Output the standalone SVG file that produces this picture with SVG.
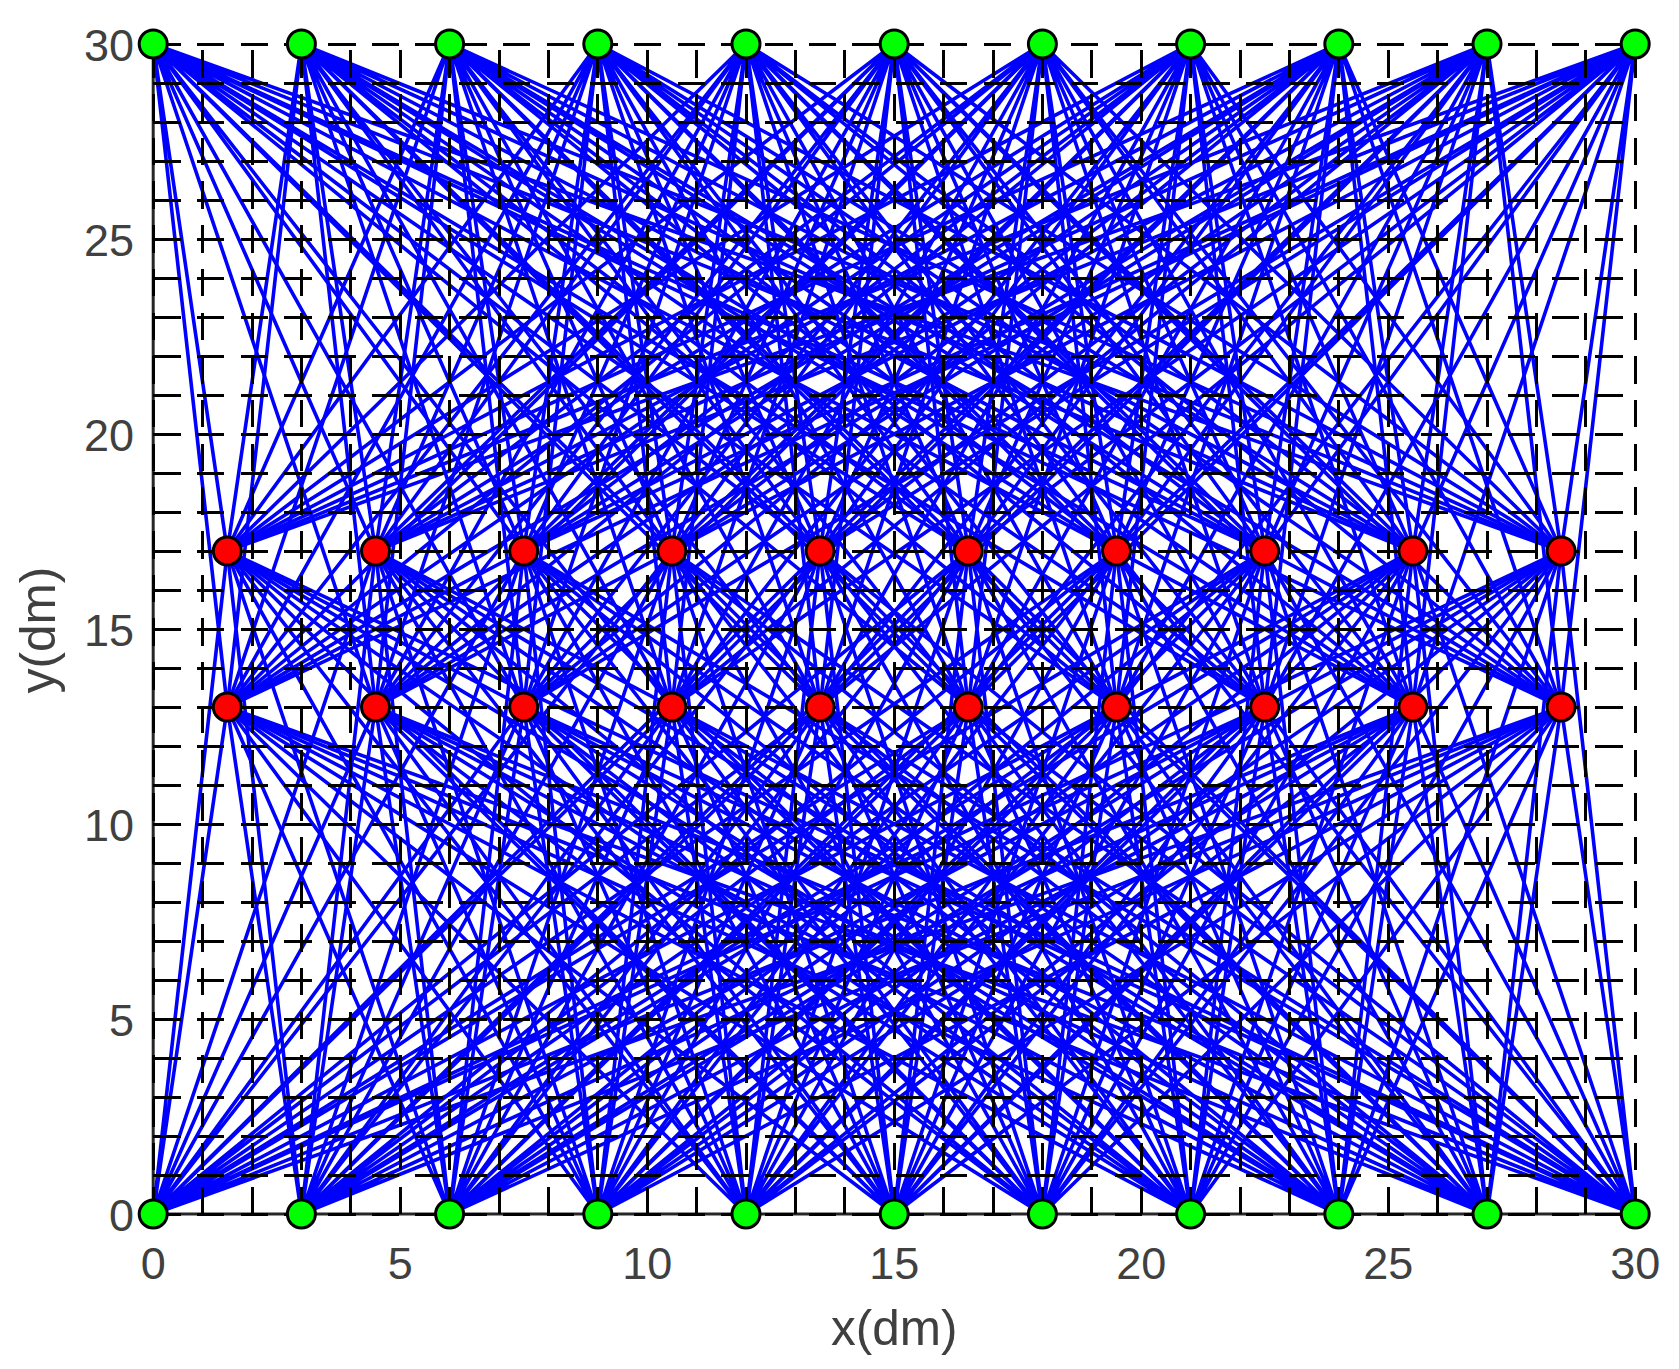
<svg xmlns="http://www.w3.org/2000/svg" xmlns:xlink="http://www.w3.org/1999/xlink" width="1679" height="1369" viewBox="0 0 1679 1369">
<style>
.axis{stroke:#262626;stroke-width:3;fill:none}
.grid{stroke:#000;stroke-width:3;stroke-dasharray:27.5 16.2;fill:none;shape-rendering:crispEdges}
.edge{stroke:#0000ff;stroke-width:3.6;fill:none;stroke-linejoin:round}
.g{fill:#00ff00;stroke:#000;stroke-width:3}
.r{fill:#ff0000;stroke:#000;stroke-width:3}
.tick{font-family:"Liberation Sans",Arial,sans-serif;font-size:45px;fill:#404040}
.lab{font-family:"Liberation Sans",Arial,sans-serif;font-size:49.5px;fill:#404040}
</style>
<defs>
<line id="hl" class="grid" x1="153.2" y1="0" x2="1635.2" y2="0"/>
<line id="vl" class="grid" x1="0" y1="1214" x2="0" y2="44"/>
</defs>
<rect width="1679" height="1369" fill="#fff"/>
<g id="axes">
<line class="axis" x1="153.2" y1="1214" x2="1635.2" y2="1214"/>
<line class="axis" x1="153.2" y1="1214" x2="153.2" y2="44"/>
</g>
<g id="connectors" class="edge">
<polyline points="153.2,44 227.3,551 153.2,1214 375.5,551 153.2,44 523.7,551 153.2,1214 671.9,551 153.2,44 820.1,551 153.2,1214 968.3,551 153.2,44 1116.5,551 153.2,1214 1264.7,551 153.2,44 1412.9,551 153.2,1214 1561.1,551 153.2,44 227.3,707 153.2,1214 375.5,707 153.2,44 523.7,707 153.2,1214 671.9,707 153.2,44 820.1,707 153.2,1214 968.3,707 153.2,44 1116.5,707 153.2,1214 1264.7,707 153.2,44 1412.9,707 153.2,1214 1561.1,707 153.2,44"/>
<polyline points="301.4,44 227.3,551 301.4,1214 375.5,551 301.4,44 523.7,551 301.4,1214 671.9,551 301.4,44 820.1,551 301.4,1214 968.3,551 301.4,44 1116.5,551 301.4,1214 1264.7,551 301.4,44 1412.9,551 301.4,1214 1561.1,551 301.4,44 227.3,707 301.4,1214 375.5,707 301.4,44 523.7,707 301.4,1214 671.9,707 301.4,44 820.1,707 301.4,1214 968.3,707 301.4,44 1116.5,707 301.4,1214 1264.7,707 301.4,44 1412.9,707 301.4,1214 1561.1,707 301.4,44"/>
<polyline points="449.6,44 227.3,551 449.6,1214 375.5,551 449.6,44 523.7,551 449.6,1214 671.9,551 449.6,44 820.1,551 449.6,1214 968.3,551 449.6,44 1116.5,551 449.6,1214 1264.7,551 449.6,44 1412.9,551 449.6,1214 1561.1,551 449.6,44 227.3,707 449.6,1214 375.5,707 449.6,44 523.7,707 449.6,1214 671.9,707 449.6,44 820.1,707 449.6,1214 968.3,707 449.6,44 1116.5,707 449.6,1214 1264.7,707 449.6,44 1412.9,707 449.6,1214 1561.1,707 449.6,44"/>
<polyline points="597.8,44 227.3,551 597.8,1214 375.5,551 597.8,44 523.7,551 597.8,1214 671.9,551 597.8,44 820.1,551 597.8,1214 968.3,551 597.8,44 1116.5,551 597.8,1214 1264.7,551 597.8,44 1412.9,551 597.8,1214 1561.1,551 597.8,44 227.3,707 597.8,1214 375.5,707 597.8,44 523.7,707 597.8,1214 671.9,707 597.8,44 820.1,707 597.8,1214 968.3,707 597.8,44 1116.5,707 597.8,1214 1264.7,707 597.8,44 1412.9,707 597.8,1214 1561.1,707 597.8,44"/>
<polyline points="746,44 227.3,551 746,1214 375.5,551 746,44 523.7,551 746,1214 671.9,551 746,44 820.1,551 746,1214 968.3,551 746,44 1116.5,551 746,1214 1264.7,551 746,44 1412.9,551 746,1214 1561.1,551 746,44 227.3,707 746,1214 375.5,707 746,44 523.7,707 746,1214 671.9,707 746,44 820.1,707 746,1214 968.3,707 746,44 1116.5,707 746,1214 1264.7,707 746,44 1412.9,707 746,1214 1561.1,707 746,44"/>
<polyline points="894.2,44 227.3,551 894.2,1214 375.5,551 894.2,44 523.7,551 894.2,1214 671.9,551 894.2,44 820.1,551 894.2,1214 968.3,551 894.2,44 1116.5,551 894.2,1214 1264.7,551 894.2,44 1412.9,551 894.2,1214 1561.1,551 894.2,44 227.3,707 894.2,1214 375.5,707 894.2,44 523.7,707 894.2,1214 671.9,707 894.2,44 820.1,707 894.2,1214 968.3,707 894.2,44 1116.5,707 894.2,1214 1264.7,707 894.2,44 1412.9,707 894.2,1214 1561.1,707 894.2,44"/>
<polyline points="1042.4,44 227.3,551 1042.4,1214 375.5,551 1042.4,44 523.7,551 1042.4,1214 671.9,551 1042.4,44 820.1,551 1042.4,1214 968.3,551 1042.4,44 1116.5,551 1042.4,1214 1264.7,551 1042.4,44 1412.9,551 1042.4,1214 1561.1,551 1042.4,44 227.3,707 1042.4,1214 375.5,707 1042.4,44 523.7,707 1042.4,1214 671.9,707 1042.4,44 820.1,707 1042.4,1214 968.3,707 1042.4,44 1116.5,707 1042.4,1214 1264.7,707 1042.4,44 1412.9,707 1042.4,1214 1561.1,707 1042.4,44"/>
<polyline points="1190.6,44 227.3,551 1190.6,1214 375.5,551 1190.6,44 523.7,551 1190.6,1214 671.9,551 1190.6,44 820.1,551 1190.6,1214 968.3,551 1190.6,44 1116.5,551 1190.6,1214 1264.7,551 1190.6,44 1412.9,551 1190.6,1214 1561.1,551 1190.6,44 227.3,707 1190.6,1214 375.5,707 1190.6,44 523.7,707 1190.6,1214 671.9,707 1190.6,44 820.1,707 1190.6,1214 968.3,707 1190.6,44 1116.5,707 1190.6,1214 1264.7,707 1190.6,44 1412.9,707 1190.6,1214 1561.1,707 1190.6,44"/>
<polyline points="1338.8,44 227.3,551 1338.8,1214 375.5,551 1338.8,44 523.7,551 1338.8,1214 671.9,551 1338.8,44 820.1,551 1338.8,1214 968.3,551 1338.8,44 1116.5,551 1338.8,1214 1264.7,551 1338.8,44 1412.9,551 1338.8,1214 1561.1,551 1338.8,44 227.3,707 1338.8,1214 375.5,707 1338.8,44 523.7,707 1338.8,1214 671.9,707 1338.8,44 820.1,707 1338.8,1214 968.3,707 1338.8,44 1116.5,707 1338.8,1214 1264.7,707 1338.8,44 1412.9,707 1338.8,1214 1561.1,707 1338.8,44"/>
<polyline points="1487,44 227.3,551 1487,1214 375.5,551 1487,44 523.7,551 1487,1214 671.9,551 1487,44 820.1,551 1487,1214 968.3,551 1487,44 1116.5,551 1487,1214 1264.7,551 1487,44 1412.9,551 1487,1214 1561.1,551 1487,44 227.3,707 1487,1214 375.5,707 1487,44 523.7,707 1487,1214 671.9,707 1487,44 820.1,707 1487,1214 968.3,707 1487,44 1116.5,707 1487,1214 1264.7,707 1487,44 1412.9,707 1487,1214 1561.1,707 1487,44"/>
<polyline points="1635.2,44 227.3,551 1635.2,1214 375.5,551 1635.2,44 523.7,551 1635.2,1214 671.9,551 1635.2,44 820.1,551 1635.2,1214 968.3,551 1635.2,44 1116.5,551 1635.2,1214 1264.7,551 1635.2,44 1412.9,551 1635.2,1214 1561.1,551 1635.2,44 227.3,707 1635.2,1214 375.5,707 1635.2,44 523.7,707 1635.2,1214 671.9,707 1635.2,44 820.1,707 1635.2,1214 968.3,707 1635.2,44 1116.5,707 1635.2,1214 1264.7,707 1635.2,44 1412.9,707 1635.2,1214 1561.1,707 1635.2,44"/>
</g>
<g id="grid">
<use xlink:href="#hl" y="1214"/><use xlink:href="#hl" y="1175"/><use xlink:href="#hl" y="1136"/><use xlink:href="#hl" y="1097"/><use xlink:href="#hl" y="1058"/><use xlink:href="#hl" y="1019"/><use xlink:href="#hl" y="980"/><use xlink:href="#hl" y="941"/><use xlink:href="#hl" y="902"/><use xlink:href="#hl" y="863"/><use xlink:href="#hl" y="824"/><use xlink:href="#hl" y="785"/><use xlink:href="#hl" y="746"/><use xlink:href="#hl" y="707"/><use xlink:href="#hl" y="668"/><use xlink:href="#hl" y="629"/><use xlink:href="#hl" y="590"/><use xlink:href="#hl" y="551"/><use xlink:href="#hl" y="512"/><use xlink:href="#hl" y="473"/><use xlink:href="#hl" y="434"/><use xlink:href="#hl" y="395"/><use xlink:href="#hl" y="356"/><use xlink:href="#hl" y="317"/><use xlink:href="#hl" y="278"/><use xlink:href="#hl" y="239"/><use xlink:href="#hl" y="200"/><use xlink:href="#hl" y="161"/><use xlink:href="#hl" y="122"/><use xlink:href="#hl" y="83"/><use xlink:href="#hl" y="44"/>
<use xlink:href="#vl" x="153.2"/><use xlink:href="#vl" x="202.6"/><use xlink:href="#vl" x="252"/><use xlink:href="#vl" x="301.4"/><use xlink:href="#vl" x="350.8"/><use xlink:href="#vl" x="400.2"/><use xlink:href="#vl" x="449.6"/><use xlink:href="#vl" x="499"/><use xlink:href="#vl" x="548.4"/><use xlink:href="#vl" x="597.8"/><use xlink:href="#vl" x="647.2"/><use xlink:href="#vl" x="696.6"/><use xlink:href="#vl" x="746"/><use xlink:href="#vl" x="795.4"/><use xlink:href="#vl" x="844.8"/><use xlink:href="#vl" x="894.2"/><use xlink:href="#vl" x="943.6"/><use xlink:href="#vl" x="993"/><use xlink:href="#vl" x="1042.4"/><use xlink:href="#vl" x="1091.8"/><use xlink:href="#vl" x="1141.2"/><use xlink:href="#vl" x="1190.6"/><use xlink:href="#vl" x="1240"/><use xlink:href="#vl" x="1289.4"/><use xlink:href="#vl" x="1338.8"/><use xlink:href="#vl" x="1388.2"/><use xlink:href="#vl" x="1437.6"/><use xlink:href="#vl" x="1487"/><use xlink:href="#vl" x="1536.4"/><use xlink:href="#vl" x="1585.8"/><use xlink:href="#vl" x="1635.2"/>
</g>
<g id="nodes">
<g id="g-top-0"><circle class="g" cx="153.2" cy="44" r="14"/></g>
<g id="g-top-1"><circle class="g" cx="301.4" cy="44" r="14"/></g>
<g id="g-top-2"><circle class="g" cx="449.6" cy="44" r="14"/></g>
<g id="g-top-3"><circle class="g" cx="597.8" cy="44" r="14"/></g>
<g id="g-top-4"><circle class="g" cx="746" cy="44" r="14"/></g>
<g id="g-top-5"><circle class="g" cx="894.2" cy="44" r="14"/></g>
<g id="g-top-6"><circle class="g" cx="1042.4" cy="44" r="14"/></g>
<g id="g-top-7"><circle class="g" cx="1190.6" cy="44" r="14"/></g>
<g id="g-top-8"><circle class="g" cx="1338.8" cy="44" r="14"/></g>
<g id="g-top-9"><circle class="g" cx="1487" cy="44" r="14"/></g>
<g id="g-top-10"><circle class="g" cx="1635.2" cy="44" r="14"/></g>
<g id="g-bot-0"><circle class="g" cx="153.2" cy="1214" r="14"/></g>
<g id="g-bot-1"><circle class="g" cx="301.4" cy="1214" r="14"/></g>
<g id="g-bot-2"><circle class="g" cx="449.6" cy="1214" r="14"/></g>
<g id="g-bot-3"><circle class="g" cx="597.8" cy="1214" r="14"/></g>
<g id="g-bot-4"><circle class="g" cx="746" cy="1214" r="14"/></g>
<g id="g-bot-5"><circle class="g" cx="894.2" cy="1214" r="14"/></g>
<g id="g-bot-6"><circle class="g" cx="1042.4" cy="1214" r="14"/></g>
<g id="g-bot-7"><circle class="g" cx="1190.6" cy="1214" r="14"/></g>
<g id="g-bot-8"><circle class="g" cx="1338.8" cy="1214" r="14"/></g>
<g id="g-bot-9"><circle class="g" cx="1487" cy="1214" r="14"/></g>
<g id="g-bot-10"><circle class="g" cx="1635.2" cy="1214" r="14"/></g>
<g id="r17-0"><circle class="r" cx="227.3" cy="551" r="14"/></g>
<g id="r17-1"><circle class="r" cx="375.5" cy="551" r="14"/></g>
<g id="r17-2"><circle class="r" cx="523.7" cy="551" r="14"/></g>
<g id="r17-3"><circle class="r" cx="671.9" cy="551" r="14"/></g>
<g id="r17-4"><circle class="r" cx="820.1" cy="551" r="14"/></g>
<g id="r17-5"><circle class="r" cx="968.3" cy="551" r="14"/></g>
<g id="r17-6"><circle class="r" cx="1116.5" cy="551" r="14"/></g>
<g id="r17-7"><circle class="r" cx="1264.7" cy="551" r="14"/></g>
<g id="r17-8"><circle class="r" cx="1412.9" cy="551" r="14"/></g>
<g id="r17-9"><circle class="r" cx="1561.1" cy="551" r="14"/></g>
<g id="r13-0"><circle class="r" cx="227.3" cy="707" r="14"/></g>
<g id="r13-1"><circle class="r" cx="375.5" cy="707" r="14"/></g>
<g id="r13-2"><circle class="r" cx="523.7" cy="707" r="14"/></g>
<g id="r13-3"><circle class="r" cx="671.9" cy="707" r="14"/></g>
<g id="r13-4"><circle class="r" cx="820.1" cy="707" r="14"/></g>
<g id="r13-5"><circle class="r" cx="968.3" cy="707" r="14"/></g>
<g id="r13-6"><circle class="r" cx="1116.5" cy="707" r="14"/></g>
<g id="r13-7"><circle class="r" cx="1264.7" cy="707" r="14"/></g>
<g id="r13-8"><circle class="r" cx="1412.9" cy="707" r="14"/></g>
<g id="r13-9"><circle class="r" cx="1561.1" cy="707" r="14"/></g>
</g>
<g id="labels">
<g class="tick" text-anchor="middle">
<text x="153.2" y="1279">0</text><text x="400.2" y="1279">5</text><text x="647.2" y="1279">10</text><text x="894.2" y="1279">15</text><text x="1141.2" y="1279">20</text><text x="1388.2" y="1279">25</text><text x="1635.2" y="1279">30</text>
</g>
<g class="tick" text-anchor="end">
<text x="134" y="1230.5">0</text><text x="134" y="1035.5">5</text><text x="134" y="840.5">10</text><text x="134" y="645.5">15</text><text x="134" y="450.5">20</text><text x="134" y="255.5">25</text><text x="134" y="60.5">30</text>
</g>
<text class="lab" x="894.2" y="1345" text-anchor="middle">x(dm)</text>
<text class="lab" transform="translate(54.6,630) rotate(-90)" text-anchor="middle">y(dm)</text>
</g>
</svg>
